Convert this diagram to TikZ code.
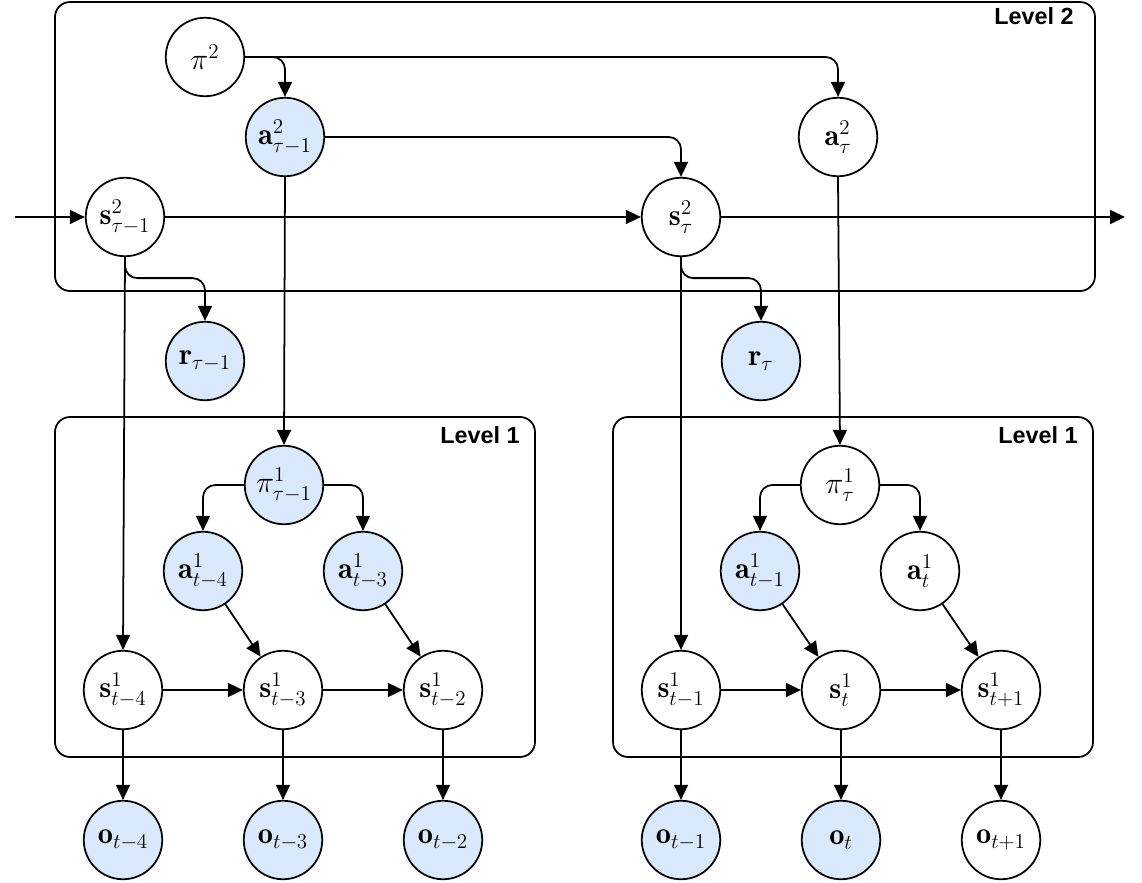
\documentclass[tikz,border=0pt]{standalone}
\usepackage{fontspec}
\setsansfont{Liberation Sans}
\usepackage{amsmath}
\usepackage{tikz}
\usetikzlibrary{arrows.meta,positioning,calc}
\usepackage{xcolor}
\definecolor{obsfill}{HTML}{DAE8FC}
\definecolor{linedark}{HTML}{000000}

\tikzset{
  var/.style={circle,draw=linedark,line width=1pt,fill=white,minimum size=1.57cm,inner sep=0pt,font=\LARGE},
  obs/.style={var,fill=obsfill},
  arr/.style={-{Triangle[length=0.3cm,width=0.28cm]},line width=1pt,draw=linedark,rounded corners=7pt},
  levelbox/.style={draw=linedark,line width=1pt,rounded corners=0.3cm},
  levellbl/.style={font=\sffamily\bfseries\fontsize{13.3}{15}\selectfont,anchor=east,inner sep=0pt}
}

\begin{document}
\begin{tikzpicture}[x=0.02cm,y=-0.02cm]
  \useasboundingbox (0,0) rectangle (1142,882);

  % level boxes
  \draw[levelbox] (55,2) rectangle (1095,291);
  \draw[levelbox] (55,417) rectangle (535,757);
  \draw[levelbox] (613,417) rectangle (1093,757);
  \node[levellbl] (lvtwo) at (1074,16) {Level 2};
  \node[levellbl] (lvonea) at (520,435) {Level 1};
  \node[levellbl] (lvoneb) at (1078,435) {Level 1};

  % level 2
  \node[var] (pi2) at (205,57) {$\pi^2$};
  \node[obs] (a2p) at (285,137) {$\mathbf{a}^2_{\tau-1}$};
  \node[var] (a2) at (838,137) {$\mathbf{a}^2_{\tau}$};
  \node[var] (s2p) at (125,217) {$\mathbf{s}^2_{\tau-1}$};
  \node[var] (s2) at (681,217) {$\mathbf{s}^2_{\tau}$};
  \node[obs] (rp) at (205,361) {$\mathbf{r}_{\tau-1}$};
  \node[obs] (r) at (761,361) {$\mathbf{r}_{\tau}$};
  \coordinate (in) at (15,217);
  \coordinate (out) at (1125,217);

  % level 1, left
  \node[obs] (pi1p) at (284,485) {$\pi^1_{\tau-1}$};
  \node[obs] (a1a) at (203,571) {$\mathbf{a}^1_{t-4}$};
  \node[obs] (a1b) at (363,571) {$\mathbf{a}^1_{t-3}$};
  \node[var] (s1a) at (123,690) {$\mathbf{s}^1_{t-4}$};
  \node[var] (s1b) at (283,690) {$\mathbf{s}^1_{t-3}$};
  \node[var] (s1c) at (443,690) {$\mathbf{s}^1_{t-2}$};
  \node[obs] (oa) at (123,840) {$\mathbf{o}_{t-4}$};
  \node[obs] (ob) at (283,840) {$\mathbf{o}_{t-3}$};
  \node[obs] (oc) at (443,840) {$\mathbf{o}_{t-2}$};

  % level 1, right
  \node[var] (pi1) at (840,485) {$\pi^1_{\tau}$};
  \node[obs] (a1d) at (760,571) {$\mathbf{a}^1_{t-1}$};
  \node[var] (a1e) at (920,571) {$\mathbf{a}^1_{t}$};
  \node[var] (s1d) at (681,690) {$\mathbf{s}^1_{t-1}$};
  \node[var] (s1e) at (841,690) {$\mathbf{s}^1_{t}$};
  \node[var] (s1f) at (1001,690) {$\mathbf{s}^1_{t+1}$};
  \node[obs] (od) at (681,840) {$\mathbf{o}_{t-1}$};
  \node[obs] (oe) at (841,840) {$\mathbf{o}_{t}$};
  \node[var] (of) at (1001,840) {$\mathbf{o}_{t+1}$};

  % level 2 edges
  \draw[arr] (in) -- (s2p);
  \draw[arr] (s2p) -- (s2);
  \draw[arr] (s2) -- (out);
  \draw[arr] (pi2.east) -| (a2p.north);
  \draw[arr] (pi2.east) -| (a2.north);
  \draw[arr] (a2p.east) -| (s2.north);
  \draw[arr] (s2p.south) -- ++(0,21) -| (rp.north);
  \draw[arr] (s2.south) -- ++(0,21) -| (r.north);

  % between levels
  \draw[arr] (s2p.south) -- (s1a.north);
  \draw[arr] (a2p.south) -- (pi1p.north);
  \draw[arr] (s2.south) -- (s1d.north);
  \draw[arr] (a2.south) -- (pi1.north);

  % level 1 edges
  \foreach \p/\l/\r in {pi1p/a1a/a1b,pi1/a1d/a1e}{
    \draw[arr] (\p.west) -| (\l.north);
    \draw[arr] (\p.east) -| (\r.north);
  }
  \foreach \a/\s in {a1a/s1b,a1b/s1c,a1d/s1e,a1e/s1f}
    \draw[arr] (\a) -- (\s);
  \foreach \s/\t in {s1a/s1b,s1b/s1c,s1d/s1e,s1e/s1f}
    \draw[arr] (\s) -- (\t);
  \foreach \s/\o in {s1a/oa,s1b/ob,s1c/oc,s1d/od,s1e/oe,s1f/of}
    \draw[arr] (\s) -- (\o);
\end{tikzpicture}
\end{document}
